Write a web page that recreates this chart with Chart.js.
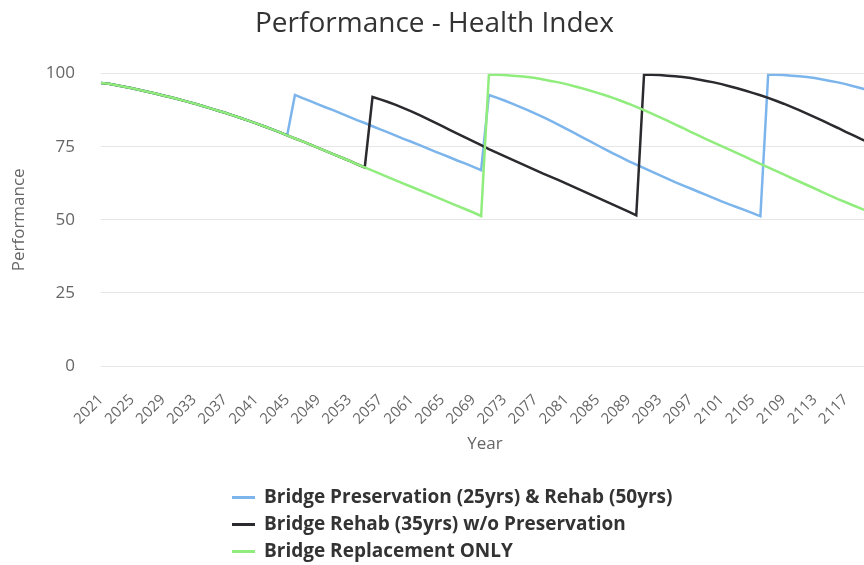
<!DOCTYPE html>
<html>
<head>
<meta charset="utf-8">
<script src="https://cdn.jsdelivr.net/npm/chart.js@4.4.1/dist/chart.umd.min.js"></script>
<style>
  html, body { margin: 0; padding: 0; background: #fff; overflow: hidden; }
  #wrap { position: relative; width: 874px; height: 565px; }
  #legend { position: absolute; left: 232px; top: 483px; font-family: "Open Sans", sans-serif; font-weight: bold; font-size: 19px; color: #333; }
  #legend .row { height: 27px; line-height: 27px; white-space: nowrap; }
  #legend .sym { display: inline-block; width: 23px; height: 3px; vertical-align: middle; margin-right: 9px; }
</style>
</head>
<body>
<div id="wrap">
  <canvas id="chart" width="874" height="565"></canvas>
  <div id="legend"></div>
</div>
<script>
const years = [
  '2021','2022','2023','2024','2025','2026','2027','2028','2029','2030',
  '2031','2032','2033','2034','2035','2036','2037','2038','2039','2040',
  '2041','2042','2043','2044','2045','2046','2047','2048','2049','2050',
  '2051','2052','2053','2054','2055','2056','2057','2058','2059','2060',
  '2061','2062','2063','2064','2065','2066','2067','2068','2069','2070',
  '2071','2072','2073','2074','2075','2076','2077','2078','2079','2080',
  '2081','2082','2083','2084','2085','2086','2087','2088','2089','2090',
  '2091','2092','2093','2094','2095','2096','2097','2098','2099','2100',
  '2101','2102','2103','2104','2105','2106','2107','2108','2109','2110',
  '2111','2112','2113','2114','2115','2116','2117','2118','2119','2120'
];

// Bridge Preservation (25yrs) & Rehab (50yrs)
const preservation = [
  96.8, 96.5, 96.0, 95.5, 95.0, 94.4, 93.8, 93.2, 92.5, 91.9,
  91.2, 90.5, 89.8, 89.0, 88.2, 87.4, 86.6, 85.7, 84.8, 83.9,
  83.0, 82.0, 81.0, 80.0, 78.9,
  92.7, 91.6, 90.6, 89.5, 88.4, 87.4, 86.3, 85.2, 84.1, 83.1,
  82.0, 80.9, 79.9, 78.8, 77.7, 76.7, 75.6, 74.5, 73.4, 72.4,
  71.3, 70.2, 69.2, 68.1, 67.0,
  92.7, 91.8, 90.8, 89.7, 88.6, 87.5, 86.3, 85.1, 83.8, 82.5,
  81.1, 79.7, 78.3, 76.9, 75.5, 74.1, 72.7, 71.4, 70.1, 68.9,
  67.7, 66.5, 65.3, 64.1, 62.9, 61.8, 60.7, 59.6, 58.5, 57.4,
  56.3, 55.3, 54.3, 53.3, 52.3, 51.2,
  99.6, 99.6, 99.5, 99.3, 99.1, 98.8, 98.5, 98.0, 97.5, 97.0,
  96.4, 95.7, 95.0, 94.2
];

// Bridge Rehab (35yrs) w/o Preservation
const rehab = [
  96.8, 96.5, 96.0, 95.5, 95.0, 94.4, 93.8, 93.2, 92.5, 91.9,
  91.2, 90.5, 89.8, 89.0, 88.2, 87.4, 86.6, 85.7, 84.8, 83.9,
  83.0, 82.0, 81.0, 80.0, 78.9, 77.8, 76.8, 75.7, 74.6, 73.5,
  72.4, 71.3, 70.2, 69.0, 67.9,
  92.0, 91.2, 90.3, 89.3, 88.2, 87.1, 85.9, 84.6, 83.3, 82.0,
  80.7, 79.4, 78.1, 76.8, 75.5, 74.2, 73.0, 71.8, 70.6, 69.4,
  68.2, 67.0, 65.8, 64.7, 63.6, 62.4, 61.2, 60.0, 58.8, 57.6,
  56.4, 55.2, 54.0, 52.8, 51.5,
  99.6, 99.6, 99.5, 99.3, 99.1, 98.8, 98.5, 98.0, 97.5, 97.0,
  96.4, 95.7, 95.0, 94.2, 93.4, 92.6, 91.7, 90.7, 89.7, 88.6,
  87.5, 86.3, 85.1, 83.9, 82.6, 81.4, 80.1, 78.9, 77.6, 76.4
];

// Bridge Replacement ONLY
const replacement = [
  96.8, 96.5, 96.0, 95.5, 95.0, 94.4, 93.8, 93.2, 92.5, 91.9,
  91.2, 90.5, 89.8, 89.0, 88.2, 87.4, 86.6, 85.7, 84.8, 83.9,
  83.0, 82.0, 81.0, 80.0, 78.9, 77.8, 76.8, 75.7, 74.6, 73.5,
  72.4, 71.3, 70.2, 69.0, 67.9, 66.8, 65.7, 64.6, 63.5, 62.4,
  61.3, 60.2, 59.1, 58.0, 56.9, 55.8, 54.7, 53.6, 52.5, 51.3,
  99.6, 99.6, 99.5, 99.3, 99.1, 98.8, 98.5, 98.0, 97.5, 97.0,
  96.4, 95.7, 95.0, 94.2, 93.4, 92.6, 91.7, 90.7, 89.7, 88.6,
  87.5, 86.3, 85.1, 83.9, 82.6, 81.4, 80.1, 78.9, 77.6, 76.4,
  75.2, 74.0, 72.8, 71.6, 70.3, 69.1, 67.9, 66.7, 65.5, 64.3,
  63.1, 61.9, 60.7, 59.5, 58.3, 57.1, 56.0, 54.9, 53.8, 52.7
];

const seriesNames = [
  'Bridge Preservation (25yrs) & Rehab (50yrs)',
  'Bridge Rehab (35yrs) w/o Preservation',
  'Bridge Replacement ONLY'
];
const yTicks = [0, 25, 50, 75, 100];

const colors = ['#7cb5ec', '#2b2b2f', '#90ed7d'];
const font = '"Open Sans", sans-serif';

// later series sit on top, like the original
const datasets = [preservation, rehab, replacement].map(function (values, i) {
  return {
    label: seriesNames[i],
    data: values,
    borderColor: colors[i],
    backgroundColor: colors[i],
    borderWidth: 2.5,
    pointRadius: 0,
    tension: 0,
    fill: false,
    order: 2 - i
  };
});

new Chart(document.getElementById('chart'), {
  type: 'line',
  data: { labels: years, datasets: datasets },
  options: {
    responsive: false,
    animation: false,
    layout: { padding: { top: 0, right: 5, bottom: 109, left: 0 } },
    plugins: {
      legend: { display: false },
      tooltip: { enabled: false },
      title: {
        display: true,
        text: 'Performance - Health Index',
        color: '#333',
        font: { family: font, size: 28, weight: 'normal' },
        padding: { top: 7, bottom: 33 }
      }
    },
    scales: {
      x: {
        grid: { display: false },
        border: { display: false },
        ticks: {
          autoSkip: false,
          minRotation: 45,
          maxRotation: 45,
          padding: 17,
          color: '#666',
          font: { family: font, size: 15 },
          callback: function (val, idx) { return idx % 4 === 0 ? years[idx] : ''; }
        },
        title: {
          display: true,
          text: 'Year',
          color: '#666',
          font: { family: font, size: 17 },
          padding: { top: 0, bottom: 2 }
        },
        afterFit: function (scale) {
          scale.height = 90;
          scale.paddingLeft = 0;
          scale.paddingRight = 0;
        }
      },
      y: {
        min: 0,
        max: 100,
        afterBuildTicks: function (scale) {
          scale.ticks = yTicks.map(function (v) { return { value: v }; });
        },
        grid: { color: '#e6e6e6', lineWidth: 1, drawTicks: false },
        border: { display: false },
        ticks: {
          padding: 26,
          color: '#666',
          font: { family: font, size: 17 }
        },
        title: {
          display: true,
          text: 'Performance',
          color: '#666',
          font: { family: font, size: 17 },
          padding: { top: 9, bottom: 0 }
        },
        afterFit: function (scale) { scale.width = 101; }
      }
    }
  }
});

const legend = document.getElementById('legend');
seriesNames.forEach(function (name, i) {
  const row = document.createElement('div');
  row.className = 'row';
  const sym = document.createElement('span');
  sym.className = 'sym';
  sym.style.background = colors[i];
  row.appendChild(sym);
  row.appendChild(document.createTextNode(name));
  legend.appendChild(row);
});
</script>
</body>
</html>
